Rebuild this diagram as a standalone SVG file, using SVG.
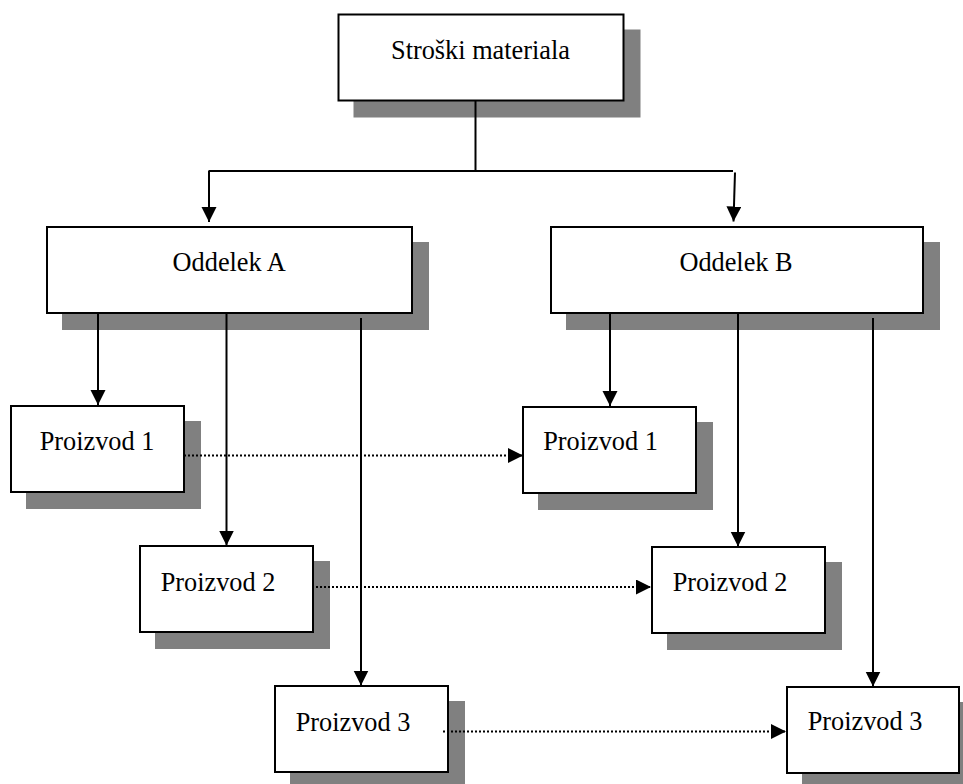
<svg xmlns="http://www.w3.org/2000/svg" width="963" height="784" viewBox="0 0 963 784">
  <style>
    .shadow { fill: #808080; stroke: none; }
    .box { fill: #ffffff; stroke: #000000; stroke-width: 2; }
    .label { font-family: "Liberation Serif", "Times New Roman", serif; font-size: 26.3px; fill: #000000; text-anchor: middle; }
    .conn { fill: none; stroke: #000000; stroke-width: 2; }
    .arrow { marker-end: url(#arrowhead); }
    .dotted { stroke-dasharray: 2 2; }
  </style>
  <defs>
    <marker id="arrowhead" markerUnits="userSpaceOnUse" markerWidth="16" markerHeight="16" refX="15" refY="7.5" orient="auto">
      <path d="M0,0 L15,7.5 L0,15 Z" fill="#000000"/>
    </marker>
  </defs>
  <rect width="963" height="784" fill="#ffffff"/>

  <g id="stroski-materiala">
    <rect class="shadow" x="353.5" y="29.5" width="287" height="88"/>
    <rect class="box" x="338.5" y="14.5" width="285" height="86"/>
    <text class="label" x="480.5" y="59">Stroški materiala</text>
  </g>

  <g id="oddelek-a">
    <rect class="shadow" x="62" y="242" width="367" height="88"/>
    <rect class="box" x="47" y="227" width="365" height="86"/>
    <text class="label" x="229.2" y="270.7">Oddelek A</text>
  </g>

  <g id="oddelek-b">
    <rect class="shadow" x="566" y="242" width="374" height="88"/>
    <rect class="box" x="551" y="227" width="372" height="86"/>
    <text class="label" x="736" y="270.7">Oddelek B</text>
  </g>

  <g id="a-proizvod-1">
    <rect class="shadow" x="26" y="421" width="175" height="88"/>
    <rect class="box" x="11" y="406" width="173" height="86"/>
    <text class="label" x="97" y="450">Proizvod 1</text>
  </g>

  <g id="b-proizvod-1">
    <rect class="shadow" x="538" y="422" width="175" height="88"/>
    <rect class="box" x="523" y="407" width="173" height="86"/>
    <text class="label" x="600.5" y="450">Proizvod 1</text>
  </g>

  <g id="a-proizvod-2">
    <rect class="shadow" x="155" y="561" width="175" height="88"/>
    <rect class="box" x="140" y="546" width="173" height="86"/>
    <text class="label" x="218" y="591">Proizvod 2</text>
  </g>

  <g id="b-proizvod-2">
    <rect class="shadow" x="667" y="562" width="175" height="88"/>
    <rect class="box" x="652" y="547" width="173" height="86"/>
    <text class="label" x="730" y="591">Proizvod 2</text>
  </g>

  <g id="a-proizvod-3">
    <rect class="shadow" x="290" y="701" width="175" height="88"/>
    <rect class="box" x="275" y="686" width="173" height="86"/>
    <text class="label" x="353" y="730.6">Proizvod 3</text>
  </g>

  <g id="b-proizvod-3">
    <rect class="shadow" x="802" y="702" width="174" height="88"/>
    <rect class="box" x="787" y="687" width="172" height="86"/>
    <text class="label" x="865" y="730">Proizvod 3</text>
  </g>

  <g id="connectors">
    <line class="conn" x1="475.5" y1="101" x2="475.5" y2="171"/>
    <line class="conn" x1="208.5" y1="171" x2="733" y2="171"/>
    <line class="conn arrow" x1="209" y1="171" x2="209" y2="222"/>
    <line class="conn arrow" x1="735" y1="172.5" x2="733.5" y2="221.5"/>

    <line class="conn arrow" x1="98" y1="313" x2="98" y2="405"/>
    <line class="conn arrow" x1="226.5" y1="313" x2="226.5" y2="545.5"/>
    <line class="conn arrow" x1="361" y1="318" x2="361" y2="685.5"/>

    <line class="conn arrow" x1="610" y1="313" x2="610" y2="406"/>
    <line class="conn arrow" x1="738" y1="313" x2="738" y2="546.5"/>
    <line class="conn arrow" x1="873" y1="318" x2="873" y2="686.5"/>

    <line class="conn dotted arrow" x1="184" y1="455.5" x2="523" y2="455.5"/>
    <line class="conn dotted arrow" x1="312" y1="587" x2="651" y2="587"/>
    <line class="conn dotted arrow" x1="443" y1="731.5" x2="786" y2="731.5"/>
  </g>
</svg>
